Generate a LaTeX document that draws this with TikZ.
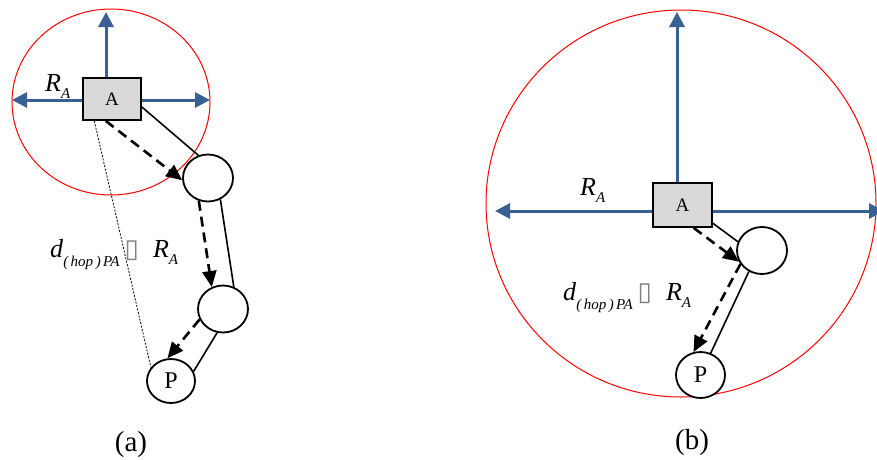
\documentclass[tikz,border=0pt]{standalone}
\usepackage{fontspec}
\setmainfont{Liberation Serif}
\newfontfamily\symfont{DejaVu Sans}
\usetikzlibrary{shapes.geometric,arrows.meta}
\definecolor{axisblue}{RGB}{56,96,146}
\definecolor{boxgray}{RGB}{217,217,217}
\newcommand{\myRA}{\textit{R}\raisebox{-0.3em}{\fontsize{15}{16}\selectfont\textit{A}}}
\newcommand{\mydist}{\textit{d}\raisebox{-0.35em}{\fontsize{15}{16}\selectfont\textit{(\,hop\,)\,PA}}}
\newcommand{\mybox}{{\symfont\fontsize{26}{28}\selectfont\color{gray}▯}}
\begin{document}
\begin{tikzpicture}[x=1pt,y=-1pt,
  anchorbox/.style={draw, line width=1.8pt, fill=boxgray, minimum width=58pt, minimum height=42pt, inner sep=0pt, font=\fontsize{19}{21}\selectfont},
  hopnode/.style={draw, ellipse, line width=1.8pt, fill=white, minimum width=50pt, minimum height=47pt, inner sep=0pt, font=\fontsize{24}{26}\selectfont},
  rangering/.style={draw=red, line width=1pt},
  reacharrow/.style={draw=axisblue, line width=3pt, -{Triangle[length=15pt,width=15pt]}},
  linkline/.style={draw, line width=1.6pt},
  routearrow/.style={draw, line width=2.6pt, dash pattern=on 10pt off 6pt, -{Triangle[length=16pt,width=14pt]}},
  spanline/.style={draw, line width=0.8pt, dash pattern=on 2pt off 1.5pt},
  lbltext/.style={font=\fontsize{26}{28}\selectfont, inner sep=0pt}
]
\useasboundingbox (0,0) rectangle (877,459);
\clip (0,0) rectangle (877,459);
% ---------- (a) ----------
\draw[rangering] (111,102) ellipse [x radius=99, y radius=93];
\node[anchorbox] (A1) at (112,99) {A};
\node[hopnode] (a1) at (208,178) {};
\node[hopnode] (a2) at (223,309) {};
\node[hopnode, minimum width=48pt, minimum height=44pt] (P1) at (171,381) {P};
\coordinate (aN) at (106,12);
\coordinate (aW) at (12,100);
\coordinate (aE) at (210,100);
\draw[reacharrow] (A1.north -| aN) -- (aN);
\draw[reacharrow] (A1.west |- aW) -- (aW);
\draw[reacharrow] (A1.east |- aE) -- (aE);
\draw[linkline] (A1.-15) -- (a1.113);
\draw[linkline] (a1.-60) -- (a2.64);
\draw[linkline] (a2.-104) -- (P1.23);
\draw[routearrow] (A1.-106) -- (a1.185);
\draw[routearrow] (a1.-112) -- (a2.117);
\draw[routearrow] (a2.204) -- (P1.99);
\draw[spanline] (A1.-129) -- (P1.146);
\node[lbltext, anchor=base west] (ra1) at (45,91) {\myRA};
\node[lbltext, anchor=base west] (d1) at (50,257) {\mydist\hspace{5pt}\mybox\hspace{14pt}\myRA};
\node[lbltext, font=\fontsize{29}{31}\selectfont] (capa) at (131,445) {(a)};
% ---------- (b) ----------
\draw[rangering] (681,203.5) ellipse [x radius=195, y radius=193.5];
\node[anchorbox, minimum width=59pt, minimum height=44pt] (A2) at (682.5,205) {A};
\node[hopnode] (b1) at (762,250.5) {};
\node[hopnode, minimum width=49pt, minimum height=46pt] (P2) at (700.5,375) {P};
\coordinate (bN) at (677,12);
\coordinate (bW) at (495,211);
\coordinate (bE) at (884,211);
\draw[reacharrow] (A2.north -| bN) -- (bN);
\draw[reacharrow] (A2.west |- bW) -- (bW);
\draw[reacharrow] (A2.east |- bE) -- (bE);
\draw[linkline] (A2.-31) -- (b1.160);
\draw[linkline] (b1.-122) -- (P2.65);
\draw[routearrow] (A2.-64) -- (b1.206);
\draw[routearrow] (b1.212) -- (P2.107);
\node[lbltext, anchor=base west] (ra2) at (580,195) {\myRA};
\node[lbltext, anchor=base west] (d2) at (563,300) {\mydist\hspace{5pt}\mybox\hspace{14pt}\myRA};
\node[lbltext, font=\fontsize{29}{31}\selectfont] (capb) at (692,443) {(b)};
\end{tikzpicture}
\end{document}
